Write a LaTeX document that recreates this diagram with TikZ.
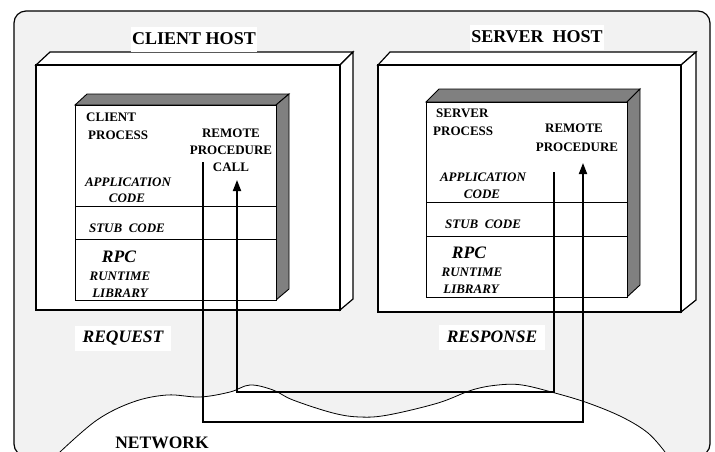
\documentclass[tikz,border=0pt]{standalone}
\usepackage{fontspec}
\setmainfont{Liberation Serif}
\usetikzlibrary{arrows.meta}
\begin{document}
\begin{tikzpicture}[x=1pt,y=-1pt,
  hostbox/.style={draw,line width=1.2pt,fill=white},
  procbox/.style={draw,line width=0.9pt,fill=white},
  shadeface/.style={draw,line width=0.9pt,fill=black!50},
  divider/.style={line width=0.8pt},
  link/.style={line width=1.8pt},
  tip/.style={-{Triangle[length=11pt,width=8pt]}},
  small/.style={font=\bfseries\fontsize{13}{14}\selectfont,inner sep=0pt},
  smallit/.style={font=\bfseries\itshape\fontsize{13}{14}\selectfont,inner sep=0pt},
  title/.style={font=\bfseries\fontsize{18}{20}\selectfont,fill=white,inner xsep=1pt,minimum height=25pt},
  bigit/.style={font=\bfseries\itshape\fontsize{17.5}{20}\selectfont}]
 \useasboundingbox (0,0) rectangle (715,451);
 \draw[line width=1.2pt,fill=black!5,rounded corners=12pt](14,11) rectangle (710,456);
 % network
 \draw[line width=0.8pt,fill=white] plot[smooth,tension=0.6] coordinates {(60,452) (97,420) (133,402) (167,395) (200,397) (230,392) (250,385) (273,390) (293,400) (333,413) (360,417) (388,415) (438,403) (472,390) (498,385) (522,385) (555,393) (588,403) (622,417) (648,433) (665,452)} -- (665,470) -- (60,470) -- cycle;
 % client host
 \draw[hostbox](36,65)--(50,52)--(353,52)--(340,65)--cycle;
 \draw[hostbox](340,65)--(353,52)--(353,299)--(340,310)--cycle;
 \draw[hostbox](36,65) rectangle (340,310);
 \draw[shadeface](75,105)--(87,94)--(289,94)--(276,105)--cycle;
 \draw[shadeface](276,105)--(289,94)--(289,289)--(276,300)--cycle;
 \draw[procbox](75,105) rectangle (276,300);
 \draw[divider](75,206)--(276,206);
 \draw[divider](75,239)--(276,239);
 % server host
 \draw[hostbox](378,65)--(390,52)--(696,52)--(681,65)--cycle;
 \draw[hostbox](681,65)--(696,52)--(696,300)--(681,312)--cycle;
 \draw[hostbox](378,65) rectangle (681,312);
 \draw[shadeface](426,102)--(439,89)--(640,89)--(627,102)--cycle;
 \draw[shadeface](627,102)--(640,89)--(640,285)--(627,297)--cycle;
 \draw[procbox](426,102) rectangle (627,297);
 \draw[divider](426,202)--(627,202);
 \draw[divider](426,236)--(627,236);
 % titles
 \node[title] (clienthost) at (194,39) {CLIENT HOST};
 \node[title] (serverhost) at (537,37) {SERVER\ \ HOST};
 \node[bigit,fill=white,inner xsep=8pt,minimum height=25pt] (request) at (123,338) {REQUEST};
 \node[bigit,fill=white,inner xsep=8pt,minimum height=25pt] (response) at (492,337) {RESPONSE};
 \node[font=\bfseries\fontsize{17.5}{20}\selectfont] (network) at (162,443) {NETWORK};
 % client process labels
 \node[small,anchor=west] (cproc1) at (86,117) {CLIENT};
 \node[small,anchor=west] (cproc2) at (88,135) {PROCESS};
 \node[small] (rpc1) at (231,133) {REMOTE};
 \node[small] (rpc2) at (231,150) {PROCEDURE};
 \node[small] (rpc3) at (231,167) {CALL};
 \node[smallit] (capp1) at (128,182) {APPLICATION};
 \node[smallit] (capp2) at (127,198) {CODE};
 \node[smallit] (cstub) at (127,228) {STUB\ \ CODE};
 \node[bigit,inner sep=0pt] (crpc) at (119,257) {RPC};
 \node[smallit] (crun1) at (120,276) {RUNTIME};
 \node[smallit] (crun2) at (120,293) {LIBRARY};
 % server process labels
 \node[small,anchor=west] (sproc1) at (436,113) {SERVER};
 \node[small,anchor=west] (sproc2) at (433,131) {PROCESS};
 \node[small] (rp1) at (574,128) {REMOTE};
 \node[small] (rp2) at (577,147) {PROCEDURE};
 \node[smallit] (sapp1) at (483,177) {APPLICATION};
 \node[smallit] (sapp2) at (482,194) {CODE};
 \node[smallit] (sstub) at (483,224) {STUB\ \ CODE};
 \node[bigit,inner sep=0pt] (srpc) at (469,253) {RPC};
 \node[smallit] (srun1) at (472,272) {RUNTIME};
 \node[smallit] (srun2) at (471,289) {LIBRARY};
 % call paths
 \coordinate (reqout) at (203,162);
 \coordinate (reqin) at (583,163);
 \coordinate (respout) at (554,172);
 \coordinate (respin) at (237,180);
 \draw[link,tip](reqout)--++(0,260)-|(reqin);
 \draw[link,tip](respout)--++(0,220)-|(respin);
\end{tikzpicture}
\end{document}
